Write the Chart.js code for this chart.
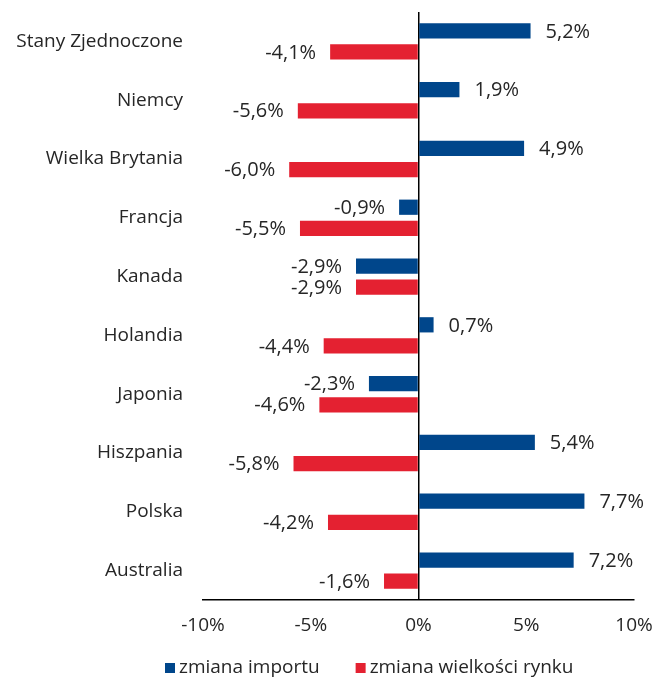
<!DOCTYPE html>
<html>
<head>
<meta charset="utf-8">
<script src="https://cdn.jsdelivr.net/npm/chart.js@4"></script>
<style>
  html, body { margin: 0; padding: 0; background: #fff; }
  #wrap { width: 657px; height: 678px; }
</style>
</head>
<body>
<div id="wrap"><canvas id="chart"></canvas></div>
<script>
const countries = ['Stany Zjednoczone', 'Niemcy', 'Wielka Brytania', 'Francja', 'Kanada',
  'Holandia', 'Japonia', 'Hiszpania', 'Polska', 'Australia'];
const importChange = [5.2, 1.9, 4.9, -0.9, -2.9, 0.7, -2.3, 5.4, 7.7, 7.2];
const marketChange = [-4.1, -5.6, -6.0, -5.5, -2.9, -4.4, -4.6, -5.8, -4.2, -1.6];
const seriesNames = ['zmiana importu', 'zmiana wielkości rynku'];
const xTicks = [-10, -5, 0, 5, 10];

const FONT = '"Open Sans", sans-serif';
const TEXT = '#262626';
const BLUE = '#00468B';
const RED = '#E42131';

const fmt = v => v.toFixed(1).replace('.', ',') + '%';

/* etykiety wartości przy słupkach */
const valueLabels = {
  id: 'valueLabels',
  afterDatasetsDraw(chart) {
    const ctx = chart.ctx;
    ctx.save();
    ctx.font = '20px ' + FONT;
    ctx.fillStyle = TEXT;
    ctx.textBaseline = 'middle';
    chart.data.datasets.forEach((ds, i) => {
      chart.getDatasetMeta(i).data.forEach((bar, j) => {
        const v = ds.data[j];
        if (v >= 0) {
          ctx.textAlign = 'left';
          ctx.fillText(fmt(v), bar.x + 15, bar.y + 1);
        } else {
          ctx.textAlign = 'right';
          ctx.fillText(fmt(v), bar.x - 14, bar.y + 1);
        }
      });
    });
    ctx.restore();
  }
};

/* legenda pod osią */
const bottomLegend = {
  id: 'bottomLegend',
  afterDraw(chart) {
    const ctx = chart.ctx;
    ctx.save();
    ctx.font = '19px ' + FONT;
    ctx.textBaseline = 'middle';
    ctx.textAlign = 'left';
    let x = 165;
    const y = 668;
    chart.data.datasets.forEach(ds => {
      ctx.fillStyle = ds.backgroundColor;
      ctx.fillRect(x, y - 5, 10, 10);
      ctx.fillStyle = TEXT;
      ctx.fillText(ds.label, x + 14, y);
      x += 14 + ctx.measureText(ds.label).width + 36;
    });
    ctx.restore();
  }
};

new Chart(document.getElementById('chart'), {
  type: 'bar',
  data: {
    labels: countries,
    datasets: [
      {
        label: seriesNames[0],
        data: importChange,
        backgroundColor: BLUE,
        categoryPercentage: 0.72,
        barPercentage: 0.72
      },
      {
        label: seriesNames[1],
        data: marketChange,
        backgroundColor: RED,
        categoryPercentage: 0.72,
        barPercentage: 0.72
      }
    ]
  },
  options: {
    indexAxis: 'y',
    responsive: true,
    maintainAspectRatio: false,
    animation: false,
    layout: { padding: { top: 12, right: 23, left: 0, bottom: 0 } },
    plugins: {
      legend: { display: false },
      tooltip: { enabled: false }
    },
    scales: {
      x: {
        min: -10,
        max: 10,
        afterBuildTicks: scale => { scale.ticks = xTicks.map(v => ({ value: v })); },
        afterFit: scale => {
          scale.height = 78;
          scale.paddingLeft = 0;
          scale.paddingRight = 0;
        },
        ticks: {
          color: TEXT,
          font: { family: FONT, size: 19 },
          padding: 14,
          callback: v => v + '%'
        },
        grid: {
          drawTicks: false,
          color: ctx => ctx.tick && ctx.tick.value === 0 ? '#000' : 'transparent',
          lineWidth: 1.5
        },
        border: { display: true, color: '#000', width: 1.5 }
      },
      y: {
        afterFit: scale => {
          scale.width = 203;
          scale.paddingTop = 0;
          scale.paddingBottom = 0;
        },
        ticks: {
          color: TEXT,
          font: { family: FONT, size: 19 },
          padding: 20
        },
        grid: { display: false, drawTicks: false },
        border: { display: false }
      }
    }
  },
  plugins: [valueLabels, bottomLegend]
});
</script>
</body>
</html>
